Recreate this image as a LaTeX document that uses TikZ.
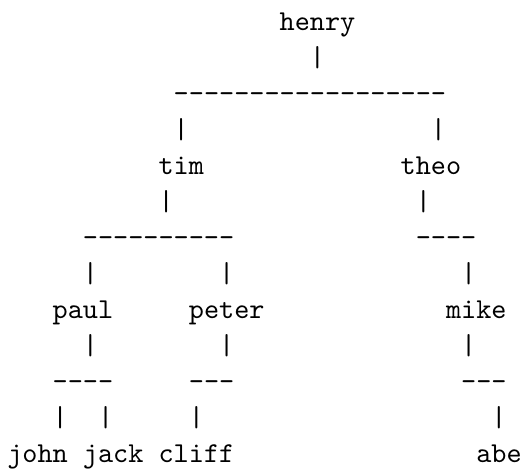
\documentclass[tikz,border=0pt]{standalone}
\tikzset{
  tt/.style={inner sep=0pt, outer sep=0pt, anchor=base west, font=\fontsize{10}{12}\selectfont\ttfamily}
}
\newcommand\hy{-\kern0pt}
\newcommand\cell[4]{\node[tt] (#1) at ({2.533pt+#2*5.25pt},{-10.65pt-#3*12.49pt}) {#4};}
\begin{document}
\begin{tikzpicture}
\useasboundingbox (0pt,0pt) rectangle (183.2pt,-163.4pt);
% row 0-1
\cell{henry}{18}{0}{henry}
\cell{b0}{20}{1}{|}
% row 2-3
\cell{d0}{11}{2}{\hy\hy\hy\hy\hy\hy\hy\hy\hy\hy\hy\hy\hy\hy\hy\hy\hy\hy}
\cell{b1}{11}{3}{|}
\cell{b2}{28}{3}{|}
% row 4-5
\cell{tim}{10}{4}{tim}
\cell{theo}{26}{4}{theo}
\cell{b3}{10}{5}{|}
\cell{b4}{27}{5}{|}
% row 6-7
\cell{d1}{5}{6}{\hy\hy\hy\hy\hy\hy\hy\hy\hy\hy}
\cell{d2}{27}{6}{\hy\hy\hy\hy}
\cell{b5}{5}{7}{|}
\cell{b6}{14}{7}{|}
\cell{b7}{30}{7}{|}
% row 8-9
\cell{paul}{3}{8}{paul}
\cell{peter}{12}{8}{peter}
\cell{mike}{29}{8}{mike}
\cell{b8}{5}{9}{|}
\cell{b9}{14}{9}{|}
\cell{b10}{30}{9}{|}
% row 10-11
\cell{d3}{3}{10}{\hy\hy\hy\hy}
\cell{d4}{12}{10}{\hy\hy\hy}
\cell{d5}{30}{10}{\hy\hy\hy}
\cell{b11}{3}{11}{|}
\cell{b12}{6}{11}{|}
\cell{b13}{12}{11}{|}
\cell{b14}{32}{11}{|}
% row 12
\cell{john}{0}{12}{john}
\cell{jack}{5}{12}{jack}
\cell{cliff}{10}{12}{cliff}
\cell{abe}{31}{12}{abe}
\end{tikzpicture}
\end{document}
